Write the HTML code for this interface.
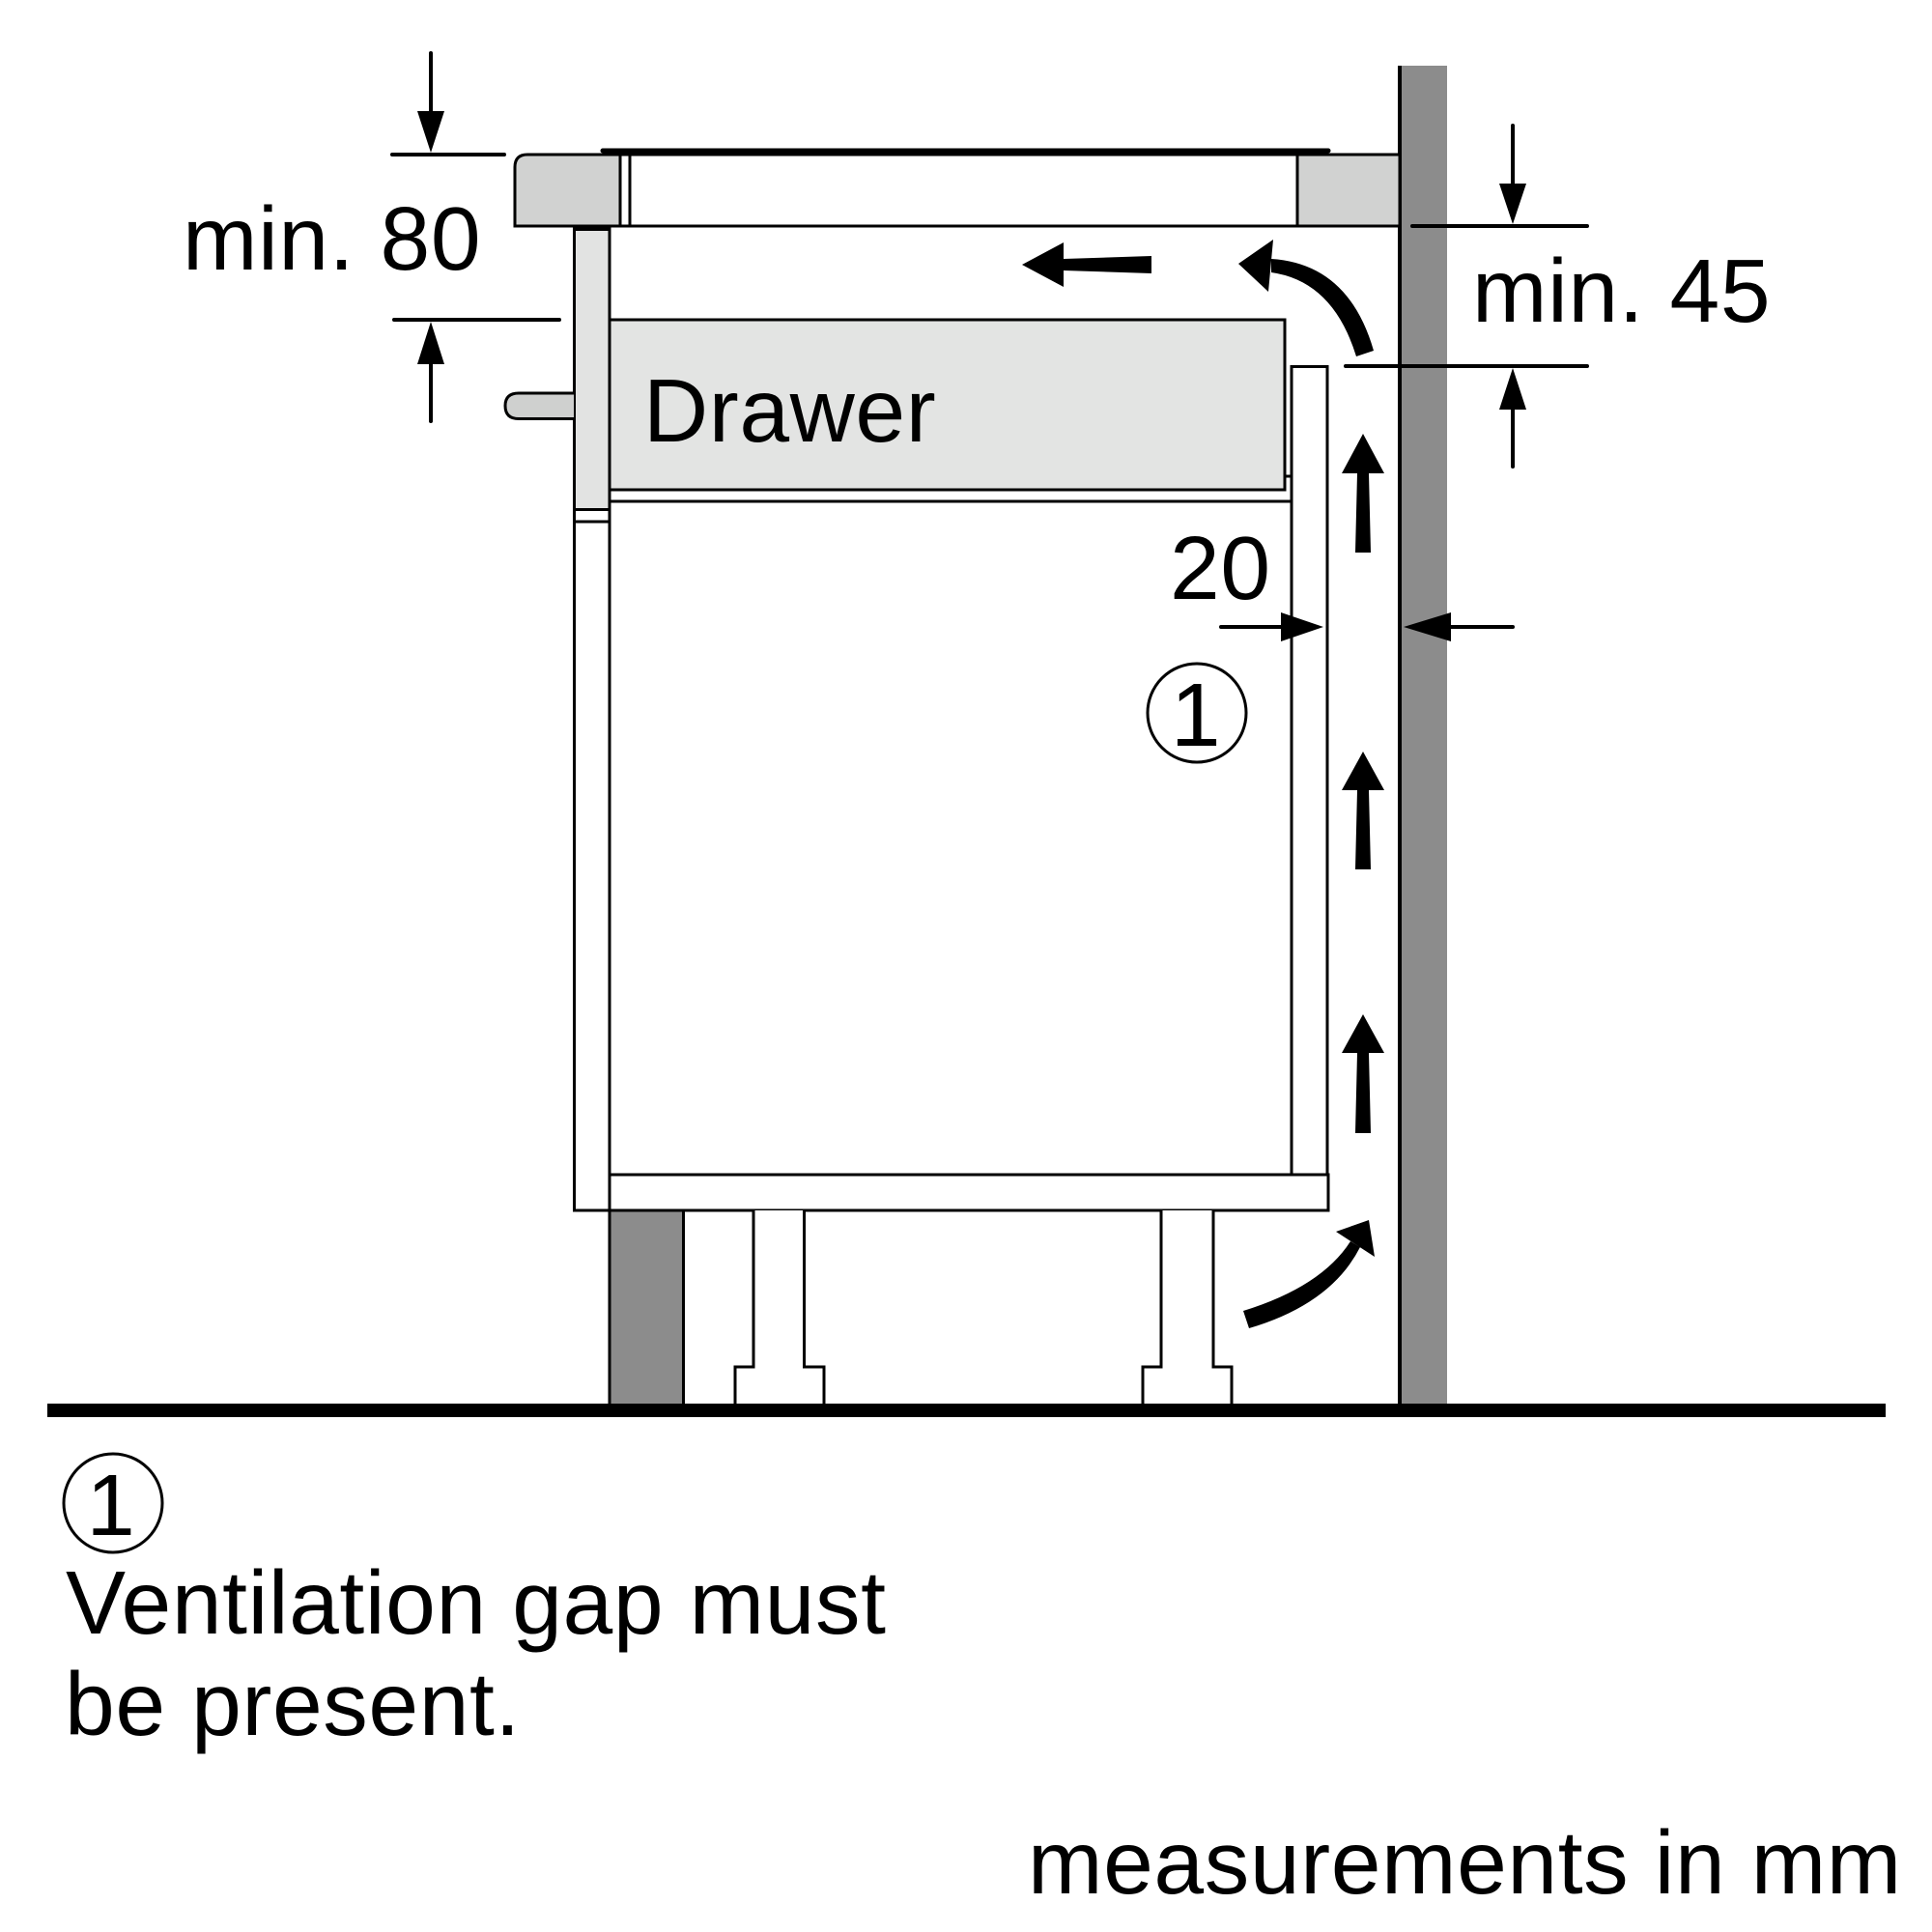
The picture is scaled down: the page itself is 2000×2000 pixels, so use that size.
<!DOCTYPE html>
<html>
<head>
<meta charset="utf-8">
<style>
  html, body { margin: 0; padding: 0; background: #ffffff; }
  svg { display: block; }
  text { font-family: "Liberation Sans", Arial, sans-serif; fill: #000; letter-spacing: 0.6px; }
</style>
</head>
<body>
<svg width="2000" height="2000" viewBox="0 0 2000 2000" xmlns="http://www.w3.org/2000/svg">
  <rect x="0" y="0" width="2000" height="2000" fill="#ffffff"/>

  <!-- Wall -->
  <rect x="1449" y="68" width="49" height="1388" fill="#8c8c8c"/>
  <line x1="1449" y1="68" x2="1449" y2="1456" stroke="#000" stroke-width="4"/>

  <!-- Countertop -->
  <path d="M533 234 L533 173 Q533 160 546 160 L642 160 L642 234 Z" fill="#d1d2d1" stroke="#000" stroke-width="3"/>
  <rect x="1343" y="160" width="106" height="74" fill="#d1d2d1" stroke="#000" stroke-width="3"/>
  <rect x="642" y="160" width="701" height="74" fill="#ffffff" stroke="#000" stroke-width="3"/>
  <line x1="652" y1="160" x2="652" y2="234" stroke="#000" stroke-width="3"/>
  <!-- hob glass top -->
  <line x1="624" y1="156" x2="1375" y2="156" stroke="#000" stroke-width="5" stroke-linecap="round"/>

  <!-- Cabinet front side panel -->
  <rect x="594.5" y="235.5" width="36.5" height="1017.5" fill="#ffffff" stroke="#000" stroke-width="3"/>
  <rect x="596" y="238" width="33.5" height="289" fill="#e2e3e2"/>
  <line x1="594.5" y1="527.5" x2="631" y2="527.5" stroke="#000" stroke-width="3"/>
  <line x1="594.5" y1="540" x2="631" y2="540" stroke="#000" stroke-width="3"/>
  <line x1="594.5" y1="236.5" x2="631" y2="236.5" stroke="#000" stroke-width="5"/>

  <!-- Knob -->
  <path d="M594 407 L537 407 Q523 407 523 420 Q523 433.5 537 433.5 L594 433.5" fill="#cfd0cf" stroke="#000" stroke-width="3"/>

  <!-- Drawer -->
  <rect x="631" y="331" width="699" height="176" fill="#e3e4e3" stroke="#000" stroke-width="3"/>
  <line x1="1330" y1="493" x2="1337" y2="493" stroke="#000" stroke-width="3"/>
  <line x1="631" y1="519" x2="1337" y2="519" stroke="#000" stroke-width="3"/>
  <text x="666" y="457" font-size="93">Drawer</text>

  <!-- Cabinet back panel -->
  <rect x="1337" y="379.5" width="37" height="836.5" fill="#ffffff" stroke="#000" stroke-width="3"/>
  <!-- Base panel -->
  <rect x="631" y="1216" width="744" height="37" fill="#ffffff" stroke="#000" stroke-width="3"/>

  <!-- Plinth -->
  <rect x="631" y="1253" width="76.5" height="202" fill="#8c8c8c" stroke="#000" stroke-width="3"/>

  <!-- Legs -->
  <path d="M780 1253 L780 1415 L761 1415 L761 1455 L853 1455 L853 1415 L832.5 1415 L832.5 1253" fill="#ffffff" stroke="#000" stroke-width="3"/>
  <path d="M1202 1253 L1202 1415 L1183 1415 L1183 1455 L1275 1455 L1275 1415 L1256 1415 L1256 1253" fill="#ffffff" stroke="#000" stroke-width="3"/>

  <!-- Floor -->
  <rect x="49" y="1453" width="1903" height="14" fill="#000"/>

  <!-- Airflow arrows -->
  <polygon points="1058,274 1101,251 1101,268 1192,265 1192,283 1101,280 1101,297" fill="#000"/>
  <path d="M1422 363 Q1396 273 1316 268 L1316 282 Q1380 291 1404 369 Z" fill="#000"/>
  <polygon points="1282,273 1318,248 1313,302" fill="#000"/>
  <polygon points="1411,449 1433,490 1417,490 1419,572 1403,572 1405,490 1389,490" fill="#000"/>
  <polygon points="1411,778 1433,818 1417,818 1419,900 1403,900 1405,818 1389,818" fill="#000"/>
  <polygon points="1411,1050 1433,1090 1417,1090 1419,1173 1403,1173 1405,1090 1389,1090" fill="#000"/>
  <path d="M1287 1357 Q1368 1332 1398 1285 L1408 1291 Q1378 1350 1293 1375 Z" fill="#000"/>
  <polygon points="1417,1263 1383,1275 1423,1301" fill="#000"/>

  <!-- Dimension: min. 80 -->
  <line x1="406" y1="160" x2="522" y2="160" stroke="#000" stroke-width="4" stroke-linecap="round"/>
  <line x1="408" y1="331" x2="579" y2="331" stroke="#000" stroke-width="4" stroke-linecap="round"/>
  <line x1="446" y1="55" x2="446" y2="118" stroke="#000" stroke-width="4" stroke-linecap="round"/>
  <polygon points="446,158 432,115 460,115" fill="#000"/>
  <line x1="446" y1="375" x2="446" y2="436" stroke="#000" stroke-width="4" stroke-linecap="round"/>
  <polygon points="446,333 432,377 460,377" fill="#000"/>
  <text x="189" y="279" font-size="93">min. 80</text>

  <!-- Dimension: min. 45 -->
  <line x1="1462" y1="234" x2="1643" y2="234" stroke="#000" stroke-width="4" stroke-linecap="round"/>
  <line x1="1393" y1="379" x2="1643" y2="379" stroke="#000" stroke-width="4" stroke-linecap="round"/>
  <line x1="1566" y1="130" x2="1566" y2="192" stroke="#000" stroke-width="4" stroke-linecap="round"/>
  <polygon points="1566,232 1552,190 1580,190" fill="#000"/>
  <line x1="1566" y1="422" x2="1566" y2="483" stroke="#000" stroke-width="4" stroke-linecap="round"/>
  <polygon points="1566,381 1552,424 1580,424" fill="#000"/>
  <text x="1524" y="333" font-size="93">min. 45</text>

  <!-- Dimension: 20 -->
  <line x1="1264" y1="649" x2="1328" y2="649" stroke="#000" stroke-width="4" stroke-linecap="round"/>
  <polygon points="1370,649 1326,634 1326,664" fill="#000"/>
  <line x1="1500" y1="649" x2="1566" y2="649" stroke="#000" stroke-width="4" stroke-linecap="round"/>
  <polygon points="1453,649 1502,634 1502,664" fill="#000"/>
  <text x="1211" y="620" font-size="93">20</text>

  <!-- Circled 1 in diagram -->
  <circle cx="1239" cy="738" r="51" fill="none" stroke="#000" stroke-width="3"/>
  <text x="1238" y="772" font-size="93" text-anchor="middle">1</text>

  <!-- Legend -->
  <circle cx="117" cy="1556" r="51" fill="none" stroke="#000" stroke-width="3"/>
  <text x="115" y="1589" font-size="90" text-anchor="middle">1</text>
  <text x="68" y="1691" font-size="93">Ventilation gap must</text>
  <text x="67" y="1796" font-size="93">be present.</text>

  <text x="1064" y="1960" font-size="93">measurements in mm</text>
</svg>
</body>
</html>
